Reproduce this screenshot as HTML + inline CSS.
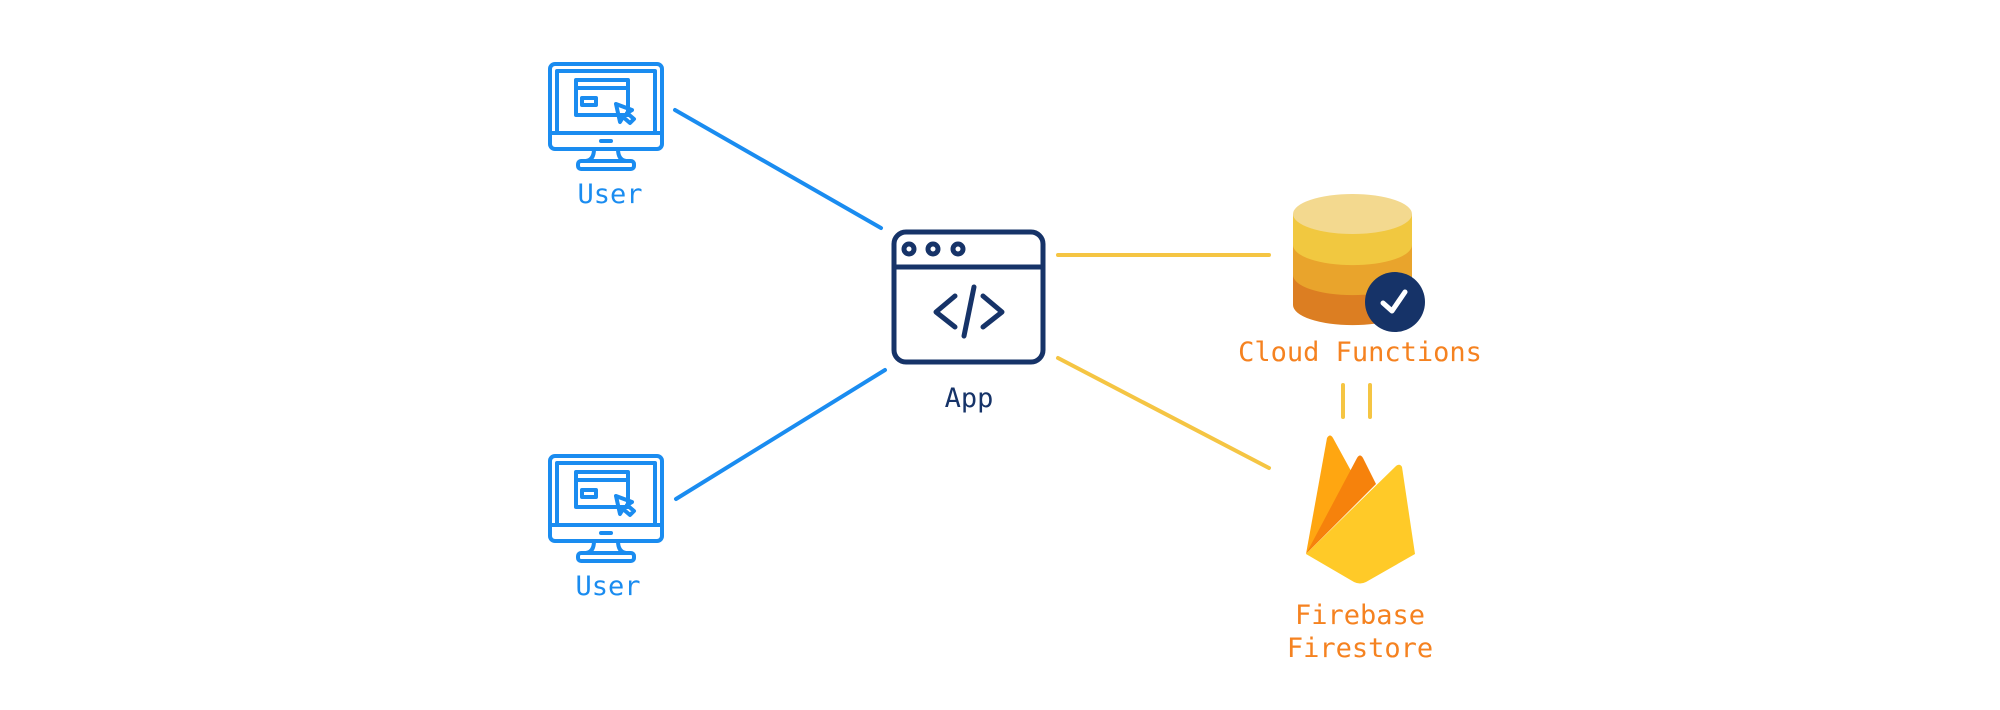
<!DOCTYPE html>
<html><head><meta charset="utf-8"><style>
html,body{margin:0;padding:0;background:#fff;}
svg{display:block;}
text{font-family:"DejaVu Sans Mono","Liberation Mono",monospace;}
</style></head><body>
<svg width="2000" height="710" viewBox="0 0 2000 710" xmlns="http://www.w3.org/2000/svg">
<defs>
<g id="mon" fill="none" stroke="#1a8cf0" stroke-width="4" stroke-linejoin="round" stroke-linecap="round">
  <rect x="0" y="0" width="112" height="85" rx="5"/>
  <rect x="7" y="7" width="98" height="62"/>
  <line x1="0" y1="69" x2="112" y2="69"/>
  <line x1="51" y1="77" x2="61" y2="77"/>
  <path d="M44 85 Q44 96 36 97 L76 97 Q68 96 68 85"/>
  <rect x="28" y="97" width="56" height="8" rx="3"/>
  <rect x="26" y="16" width="52" height="35"/>
  <line x1="26" y1="24" x2="78" y2="24"/>
  <rect x="32" y="34" width="14" height="7"/>
  <path d="M66 40 L82 46 L77 49 L84 55 L80 59 L73 53 L70 58 Z"/>
</g>
</defs>
<use href="#mon" x="550" y="64"/>
<use href="#mon" x="550" y="456"/>
<text x="610" y="203" font-size="27" fill="#1a8cf0" text-anchor="middle">User</text>
<text x="608" y="595" font-size="27" fill="#1a8cf0" text-anchor="middle">User</text>

<g stroke="#1a8cf0" stroke-width="4" stroke-linecap="round">
<line x1="675" y1="110" x2="881" y2="228"/>
<line x1="676" y1="499" x2="885" y2="370"/>
</g>
<g stroke="#f5c543" stroke-width="4" stroke-linecap="round">
<line x1="1058" y1="255" x2="1269" y2="255"/>
<line x1="1058" y1="358" x2="1269" y2="468"/>
<line x1="1343" y1="385" x2="1343" y2="417"/>
<line x1="1370" y1="385" x2="1370" y2="417"/>
</g>

<g fill="none" stroke="#163368" stroke-width="5" stroke-linecap="round" stroke-linejoin="round">
<rect x="894" y="232" width="149" height="130" rx="12"/>
<line x1="894" y1="267" x2="1043" y2="267"/>
<circle cx="909" cy="249" r="5"/>
<circle cx="933" cy="249" r="5"/>
<circle cx="958" cy="249" r="5"/>
<path d="M955 296 L936 312 L955 327"/>
<path d="M983 296 L1002 312 L983 327"/>
<line x1="974" y1="287" x2="964" y2="336"/>
</g>
<text x="969" y="407" font-size="27" fill="#163368" text-anchor="middle">App</text>

<path d="M1293 272 L1293 305 A59 20 0 0 0 1412 305 L1412 272 Z" fill="#dc7e22"/>
<path d="M1293 245 L1293 275 A59 20 0 0 0 1412 275 L1412 245 Z" fill="#e9a42c"/>
<path d="M1293 214 L1293 245 A59 20 0 0 0 1412 245 L1412 214 Z" fill="#f1c840"/>
<ellipse cx="1352.5" cy="214" rx="59.5" ry="20" fill="#f3d98f"/>
<circle cx="1395" cy="302" r="30" fill="#163368"/>
<path d="M1383 303 L1392 311 L1405 292" fill="none" stroke="#fff" stroke-width="5" stroke-linecap="round" stroke-linejoin="round"/>
<text x="1360" y="361" font-size="27" fill="#f58220" text-anchor="middle">Cloud Functions</text>

<path d="M1306 554 L1327 438 Q1330 433 1333 438 L1356 480 Z" fill="#ffa611"/>
<path d="M1306 554 L1357 458 Q1360 453 1363 458 L1376 484 Z" fill="#f6820c"/>
<path d="M1306 554 L1396 466 Q1400 463 1402 467 L1415 554 L1366 582 Q1360 585 1354 582 Z" fill="#ffca28"/>
<text x="1360" y="624" font-size="27" fill="#f58220" text-anchor="middle">Firebase</text>
<text x="1360" y="657" font-size="27" fill="#f58220" text-anchor="middle">Firestore</text>
</svg>
</body></html>
